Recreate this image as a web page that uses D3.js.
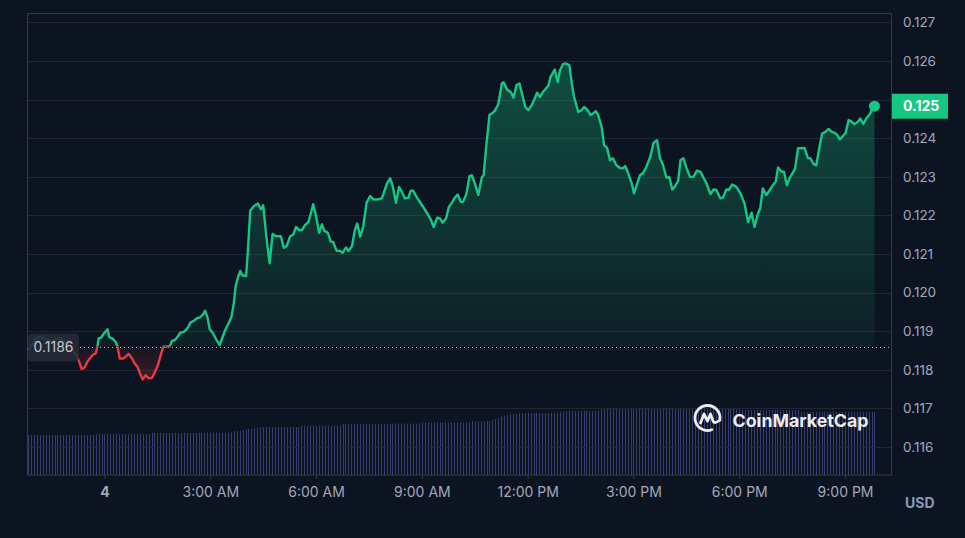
<!DOCTYPE html>
<html><head><meta charset="utf-8">
<script src="https://cdn.jsdelivr.net/npm/d3@7"></script>
<style>html,body{margin:0;padding:0;background:#0d1421;}svg{display:block;}</style>
</head><body>
<svg id="chart" width="965" height="538"></svg>
<script>
// ---- data (minutes from midnight of day 4, price in USD) ----
const minutes = [
-130,-123,-116,-109,-103,-96,-89,-82,-75,-69,-62,-55,-49,
-44,-39,-34,-29,-24,-19,-15,-12,-10,-6,0,5,8,14,19,22,26,32,36,41,47,51,56,61,65,70,75,81,86,91,95,100,
107,111,115,120,124,129,135,141,146,152,158,163,168,171,175,179,184,190,196,200,206,211,216,220,223,227,231,234,241,244,248,254,261,266,270,276,281,286,292,300,
305,310,316,321,326,331,336,341,347,351,355,360,365,370,374,380,385,389,395,401,405,411,415,421,426,430,435,440,446,452,458,466,472,477,481,486,490,496,501,506,
511,517,521,525,531,540,548,555,560,566,571,575,581,586,592,596,601,606,610,616,621,625,630,636,642,645,650,655,659,664,670,676,679,685,691,696,701,706,711,716,
721,727,732,736,741,746,751,755,759,766,771,775,780,785,791,795,799,806,812,816,822,827,831,836,840,846,850,855,860,865,871,877,882,886,891,897,901,906,911,916,
922,929,934,940,945,950,956,961,966,970,976,980,985,990,996,1002,1008,1014,1019,1024,1031,1036,1041,1048,1052,1058,1062,1068,1075,1082,1089,1095,1101,1106,1111,1116,
1120,1126,1132,1137,1142,1146,1152,1156,1161,1166,1171,1175,1180,1186,1191,1197,1201,1207,1211,1217,1221,1227,1232,1237,1242,1246,1251,1256,1261,1266,1271,1276,1282,1286,1291,1296,1302,1306,1310
];
const prices = [
0.11851,0.11867,0.11882,0.11885,0.11882,0.11877,0.11874,0.11880,0.11882,0.11874,0.11867,0.11854,0.11838,
0.11825,0.11802,0.11805,0.11821,0.11831,0.11840,0.11842,0.11861,0.11881,0.11883,0.11896,0.11905,0.11885,0.11880,0.11872,0.11861,0.11829,0.11829,0.11834,0.11841,0.11829,0.11817,0.11808,0.11788,0.11775,0.11786,0.11778,0.11779,0.11795,0.11812,0.11834,0.11860,
0.11860,0.11861,0.11875,0.11877,0.11885,0.11896,0.11898,0.11907,0.11922,0.11927,0.11934,0.11936,0.11944,0.11953,0.11937,0.11905,0.11896,0.11879,0.11864,0.11881,0.11905,0.11920,0.11937,0.11972,0.12015,0.12039,0.12056,0.12045,0.12043,0.12110,0.12212,0.12224,0.12231,0.12216,0.12226,0.12136,0.12076,0.12152,0.12146,0.12146,
0.12116,0.12121,0.12146,0.12150,0.12170,0.12162,0.12162,0.12175,0.12183,0.12205,0.12229,0.12198,0.12155,0.12177,0.12160,0.12155,0.12132,0.12131,0.12108,0.12108,0.12103,0.12117,0.12108,0.12120,0.12162,0.12179,0.12145,0.12170,0.12233,0.12250,0.12241,0.12242,0.12244,0.12267,0.12284,0.12296,0.12278,0.12233,0.12274,0.12261,
0.12244,0.12246,0.12264,0.12264,0.12248,0.12227,0.12208,0.12190,0.12170,0.12194,0.12192,0.12181,0.12192,0.12222,0.12235,0.12246,0.12254,0.12235,0.12235,0.12257,0.12302,0.12304,0.12283,0.12253,0.12298,0.12304,0.12387,0.12460,0.12464,0.12471,0.12488,0.12542,0.12545,0.12526,0.12520,0.12505,0.12538,0.12542,0.12512,0.12481,
0.12473,0.12486,0.12503,0.12518,0.12507,0.12520,0.12529,0.12536,0.12559,0.12578,0.12546,0.12576,0.12592,0.12594,0.12589,0.12542,0.12507,0.12468,0.12473,0.12481,0.12473,0.12460,0.12464,0.12470,0.12460,0.12428,0.12382,0.12375,0.12343,0.12348,0.12330,0.12323,0.12322,0.12328,0.12309,0.12283,0.12257,0.12281,0.12304,0.12309,
0.12326,0.12354,0.12388,0.12395,0.12348,0.12332,0.12298,0.12300,0.12267,0.12274,0.12289,0.12343,0.12348,0.12324,0.12300,0.12300,0.12316,0.12313,0.12298,0.12284,0.12255,0.12267,0.12266,0.12244,0.12246,0.12267,0.12266,0.12280,0.12274,0.12257,0.12231,0.12183,0.12207,0.12170,0.12201,0.12221,
0.12270,0.12253,0.12266,0.12278,0.12287,0.12324,0.12313,0.12313,0.12278,0.12298,0.12310,0.12322,0.12374,0.12374,0.12375,0.12348,0.12348,0.12332,0.12330,0.12382,0.12412,0.12417,0.12424,0.12417,0.12414,0.12410,0.12397,0.12405,0.12414,0.12447,0.12443,0.12436,0.12443,0.12451,0.12437,0.12451,0.12462,0.12475,0.12483
];
// 24h volume (millions USD), one bar per 5 minutes starting at -130 min
const volStartMinute = -130, volStepMinutes = 5;
const volumes = [
50.5,50.5,50.5,50.5,50.5,50.5,50.5,50.5,50.5,50.5,50.5,50.5,50.5,50.5,50.5,50.5,50.5,50.5,50.5,50.5,50.5,50.5,50.5,
51.8,51.8,51.8,51.8,51.8,51.8,51.8,51.8,51.8,51.8,51.8,51.8,51.8,51.8,51.8,51.8,51.8,51.8,51.8,
53,53,53,53,53,53,53,53,53,53,53,53,53,53,53,53,53,
53.7,53.7,53.7,53.7,53.7,53.7,53.7,53.7,53.7,53.7,
54.5,55,55.6,56.2,57,
57.5,58,58.4,59,59.5,60,
60.6,60.6,60.6,60.6,60.6,60.6,60.6,60.6,60.6,60.6,60.6,60.6,60.6,
62.5,62.5,62.5,62.5,62.5,62.5,62.5,62.5,62.5,62.5,62.5,62.5,62.5,62.5,
64.4,64.4,64.4,64.4,64.4,64.4,64.4,64.4,64.4,64.4,64.4,64.4,64.4,64.4,64.4,64.4,64.4,
65,65,65,65,65,65,65,65,65,65,
66.3,66.3,66.3,66.3,66.3,66.3,66.3,66.3,66.3,66.3,66.3,66.3,66.3,66.3,66.3,66.3,66.3,
67.6,67.6,67.6,67.6,67.6,67.6,67.6,
69.5,71,72.5,
74,75,75.8,76.5,77,77.5,78,
78.3,78.3,78.3,78.3,78.3,78.3,78.3,78.3,78.3,78.3,78.3,78.3,79,79.5,
80.8,80.8,80.8,80.8,80.8,80.8,80.8,80.8,80.8,80.8,80.8,80.8,80.8,
83.4,83.4,83.4,83.4,83.4,83.4,83.4,
84.6,84.6,84.6,84.6,84.6,84.6,84.6,84.6,84.6,84.6,84.6,84.6,84.6,84.6,84.6,84.6,84.6,84.6,84.6,84.6,84.6,84.6,84.6,84.6,
84,84,84,84,84,84,84,84,84,84,84,84,84,84,84,84,84,
82.1,82.1,82.1,82.1,82.1,82.1,82.1,82.1,82.1,82.1,82.1,82.1,82.1,82.1,82.1,82.1,82.1,82.1,82.1,82.1,
79.6,79.6,79.6,79.6,79.6,79.6,79.6,79.6,79.6,79.6,79.6,79.6,79.6,79.6,79.6,79.6,79.6,79.6,79.6,79.6,79.6,79.6,79.6,79.6,79.6,79.6
];
const openPrice = 0.1186;
const openPriceLabel = "0.1186";
const lastPriceLabel = "0.125";
const yTickValues = [0.116,0.117,0.118,0.119,0.120,0.121,0.122,0.123,0.124,0.125,0.126,0.127];
const xTickMinutes = [0,180,360,540,720,900,1080,1260];
const xTickLabels = ["4","3:00 AM","6:00 AM","9:00 AM","12:00 PM","3:00 PM","6:00 PM","9:00 PM"];
const currencyLabel = "USD";
const watermark = "CoinMarketCap";

// ---- drawing ----
const FONT = "Inter, 'Noto Sans', sans-serif";
const GREEN = "#16c784", RED = "#ea3943";
const svg = d3.select("#chart");
const P = {left:27.5, top:13.5, right:891.5, bottom:475};
const base = new Date(2024,0,4,0,0,0);
const t = m => new Date(base.getTime() + m*60000);
const x = d3.scaleTime().domain([t(-131), t(1339)]).range([P.left, P.right]);
const y = d3.scaleLinear().domain([0.115272, 0.127233]).range([P.bottom, P.top]);
const yv = d3.scaleLinear().domain([0, 120]).range([P.bottom, 380]);

svg.append("rect").attr("width",965).attr("height",538).attr("fill","#0d1421");

const defs = svg.append("defs");
const yBase = y(openPrice);
defs.append("clipPath").attr("id","clipUp").append("rect")
  .attr("x",0).attr("y",0).attr("width",965).attr("height",yBase);
defs.append("clipPath").attr("id","clipDown").append("rect")
  .attr("x",0).attr("y",yBase).attr("width",965).attr("height",538-yBase);
const gUp = defs.append("linearGradient").attr("id","gUp").attr("gradientUnits","userSpaceOnUse")
  .attr("x1",0).attr("x2",0).attr("y1",y(0.1259)).attr("y2",yBase);
gUp.append("stop").attr("offset",0).attr("stop-color",GREEN).attr("stop-opacity",0.32);
gUp.append("stop").attr("offset",1).attr("stop-color",GREEN).attr("stop-opacity",0.06);
const gDown = defs.append("linearGradient").attr("id","gDown").attr("gradientUnits","userSpaceOnUse")
  .attr("x1",0).attr("x2",0).attr("y1",yBase).attr("y2",y(0.1177));
gDown.append("stop").attr("offset",0).attr("stop-color",RED).attr("stop-opacity",0.04);
gDown.append("stop").attr("offset",1).attr("stop-color",RED).attr("stop-opacity",0.22);

// volume bars
const vg = svg.append("g");
volumes.forEach((v,i) => {
  const xx = Math.round(x(t(volStartMinute + i*volStepMinutes))) + 0.5;
  vg.append("line").attr("x1",xx).attr("x2",xx).attr("y1",P.bottom).attr("y2",yv(v))
    .attr("stroke","#363d70").attr("stroke-width",1);
});

// gridlines
svg.append("g").selectAll("line").data(yTickValues).join("line")
  .attr("x1",P.left).attr("x2",P.right)
  .attr("y1",d=>Math.round(y(d))+0.5).attr("y2",d=>Math.round(y(d))+0.5)
  .attr("stroke","#222632").attr("stroke-width",1);

// frame
svg.append("rect").attr("x",P.left).attr("y",P.top).attr("width",P.right-P.left).attr("height",P.bottom-P.top)
  .attr("fill","none").attr("stroke","#353945").attr("stroke-width",1);

// watermark
const wm = svg.append("g").attr("opacity",0.92);
const cx=707.5, cy=418, r=12.5;
const a1 = 70*Math.PI/180, a2 = 10*Math.PI/180;
wm.append("path")
  .attr("d",`M${cx+r*Math.cos(a1)},${cy+r*Math.sin(a1)} A${r},${r} 0 1 1 ${cx+r*Math.cos(a2)},${cy+r*Math.sin(a2)}`)
  .attr("fill","none").attr("stroke","#fff").attr("stroke-width",2.8).attr("stroke-linecap","round");
wm.append("path")
  .attr("d",`M${cx-7},${cy+5} L${cx-3.5},${cy-4} L${cx},${cy+3} L${cx+3},${cy-4} L${cx+5.5},${cy+3} Q${cx+7},${cy+6} ${cx+11},${cy+3}`)
  .attr("fill","none").attr("stroke","#fff").attr("stroke-width",2.8).attr("stroke-linejoin","round").attr("stroke-linecap","round");
wm.append("text").attr("x",732.5).attr("y",426.5).attr("fill","#fff")
  .attr("font-family",FONT).attr("font-weight",700).attr("font-size",17.8).text(watermark);

// price line + areas
const data = minutes.map((m,i)=>({d:t(m), p:prices[i]}));
const line = d3.line().x(d=>x(d.d)).y(d=>y(d.p));
const area = d3.area().x(d=>x(d.d)).y0(yBase).y1(d=>y(d.p));
svg.append("path").datum(data).attr("d",area).attr("fill","url(#gUp)").attr("clip-path","url(#clipUp)");
svg.append("path").datum(data).attr("d",area).attr("fill","url(#gDown)").attr("clip-path","url(#clipDown)");

// baseline dotted
svg.append("line").attr("x1",80).attr("x2",P.right-2).attr("y1",Math.round(yBase)+0.5).attr("y2",Math.round(yBase)+0.5)
  .attr("stroke","#b8bcc8").attr("stroke-width",1).attr("stroke-dasharray","1,3");

svg.append("path").datum(data).attr("d",line).attr("fill","none").attr("stroke",GREEN)
  .attr("stroke-width",2.4).attr("stroke-linejoin","round").attr("clip-path","url(#clipUp)");
svg.append("path").datum(data).attr("d",line).attr("fill","none").attr("stroke",RED)
  .attr("stroke-width",2.4).attr("stroke-linejoin","round").attr("clip-path","url(#clipDown)");

const last = data[data.length-1];
svg.append("circle").attr("cx",x(last.d)).attr("cy",y(last.p)).attr("r",5.5).attr("fill",GREEN);

// open price label
const lb = svg.append("g");
lb.append("rect").attr("x",28).attr("y",yBase-13).attr("width",51).attr("height",28).attr("rx",4)
  .attr("fill","#262a36").attr("fill-opacity",0.88);
lb.append("text").attr("x",33.5).attr("y",yBase+1).attr("dy","0.35em").attr("fill","#c5c8d2")
  .attr("font-family",FONT).attr("font-size",14).text(openPriceLabel);

// right axis
const ya = svg.append("g").attr("transform",`translate(${P.right},0)`)
  .call(d3.axisRight(y).tickValues(yTickValues).tickFormat(d3.format(".3f")).tickSize(0).tickPadding(11.5));
ya.select(".domain").remove();
ya.selectAll("text").attr("fill","#a1a7bb").attr("font-family",FONT).attr("font-size",13.5);

// bottom axis
const xa = svg.append("g").attr("transform",`translate(0,${P.bottom})`)
  .call(d3.axisBottom(x).tickValues(xTickMinutes.map(t)).tickFormat((d,i)=>xTickLabels[i]).tickSize(4).tickPadding(8.5));
xa.select(".domain").remove();
xa.selectAll("line").attr("stroke","#353945");
xa.selectAll("text").attr("fill","#a1a7bb").attr("font-family",FONT).attr("font-size",14)
  .attr("font-weight",(d,i)=>i===0?700:400);

// last price tag
const ly = y(last.p);
svg.append("rect").attr("x",892).attr("y",ly-12.5).attr("width",56).attr("height",25).attr("fill",GREEN);
svg.append("text").attr("x",903).attr("y",ly).attr("dy","0.35em").attr("fill","#fff")
  .attr("font-family",FONT).attr("font-weight",700).attr("font-size",14).text(lastPriceLabel);

// currency
svg.append("text").attr("x",905).attr("y",503).attr("dy","0.35em").attr("fill","#8a9bbd")
  .attr("font-family",FONT).attr("font-weight",700).attr("font-size",14).text(currencyLabel);
</script>
</body></html>
